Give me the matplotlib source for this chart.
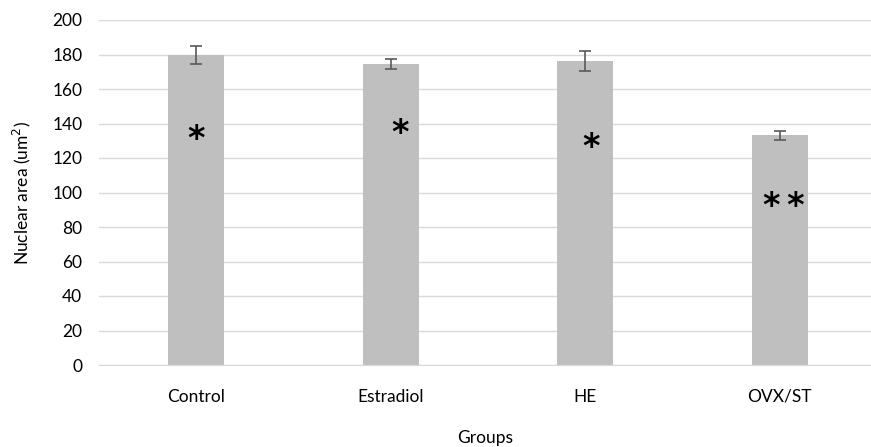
import numpy as np
import matplotlib.pyplot as plt

groups = ['Control', 'Estradiol', 'HE', 'OVX/ST']
area = [179.7, 174.6, 176.3, 133.2]
err = [5.0, 3.0, 6.0, 2.5]
marks = ['*', '*', '*', '*\u2009*']
mark_y = [131, 134, 126, 92]
mark_dx = [0.0, 0.05, 0.03, 0.02]

plt.rcParams['font.family'] = ['Lato', 'DejaVu Sans']

fig = plt.figure(figsize=(8.71, 4.47), dpi=100)
ax = fig.add_axes([99/871, 82/447, 772/871, 345/447])

x = np.arange(len(groups))
ax.bar(x, area, width=0.29, color='#bfbfbf', zorder=2)
ax.errorbar(x, area, yerr=err, fmt='none', ecolor='#595959', elinewidth=1.2,
            capsize=4, capthick=1.2, zorder=3)

for i in range(len(groups)):
    ax.text(x[i] + mark_dx[i], mark_y[i], marks[i], ha='center', va='center',
            fontsize=24, fontweight='bold', color='black', family='DejaVu Sans', zorder=4)

ax.set_ylim(0, 200)
ax.set_yticks(np.arange(0, 201, 20))
ax.set_xlim(-0.5, 3.5 - 6/194.5)
ax.set_xticks(x)
ax.set_xticklabels(groups)
ax.yaxis.grid(True, color='#d9d9d9', linewidth=1, zorder=0)
for s in ['top', 'right', 'left']:
    ax.spines[s].set_visible(False)
ax.spines['bottom'].set_color('#d9d9d9')
ax.tick_params(axis='both', length=0, labelsize=12.5, colors='#000000')
ax.tick_params(axis='x', pad=17)
ax.tick_params(axis='y', pad=12)
ax.set_ylabel('Nuclear area (um$^2$)', fontsize=12.5, labelpad=14)
ax.set_xlabel('Groups', fontsize=12.5, va='center')
ax.xaxis.set_label_coords(0.5, -0.212)

fig.savefig('out.png', dpi=100)
